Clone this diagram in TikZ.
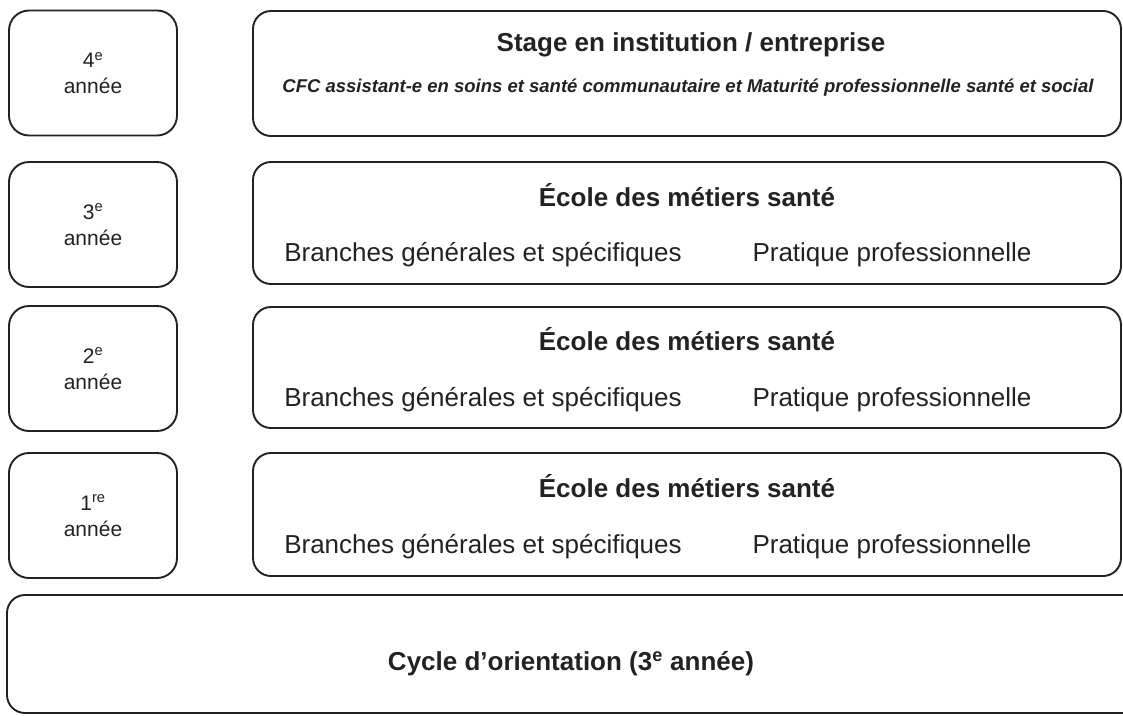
\documentclass[tikz,border=0pt]{standalone}
\usepackage{fontspec}
\setmainfont{Liberation Sans}
\usepackage{xcolor}
\definecolor{ink}{HTML}{222222}
\tikzstyle{year} = [rectangle, rounded corners=20pt, minimum width=168pt, minimum height=125pt, inner sep=0pt, draw=ink, line width=1.9pt, align=center, text=ink, font=\fontsize{21}{26}\selectfont]
\tikzstyle{school} = [rectangle, rounded corners=18pt, minimum width=868pt, inner sep=0pt, draw=ink, line width=1.9pt]
\tikzstyle{title} = [text=ink, inner sep=0pt, font=\fontsize{26}{30}\selectfont\bfseries]
\tikzstyle{branch} = [text=ink, inner sep=0pt, font=\fontsize{26}{30}\selectfont]
\tikzstyle{cfc} = [text=ink, inner sep=0pt, font=\fontsize{18.5}{22}\selectfont\bfseries\itshape]

\begin{document}
\begin{tikzpicture}[x=1pt, y=1pt, yscale=-1]

\useasboundingbox (0,0) rectangle (1123,715);
\clip (0,0) rectangle (1123,715);

% years
\node at (93, 73) (y4) [year] {4\textsuperscript{e}\\année};
\node at (93, 224.5) (y3) [year] {3\textsuperscript{e}\\année};
\node at (93, 368.5) (y2) [year] {2\textsuperscript{e}\\année};
\node at (93, 515.5) (y1) [year] {1\textsuperscript{re}\\année};

% stage
\node at (687, 73.5) (stage) [school, minimum height=125pt] {};
\node at (691, 45) (stagetitle) [title] {Stage en institution / entreprise};
\node at (688, 88) (cfc) [cfc] {CFC assistant-e en soins et santé communautaire et Maturité professionnelle santé et social};

% ecole des metiers
\node at (687, 223) (ems3) [school, minimum height=122pt] {};
\node at (687, 367.5) (ems2) [school, minimum height=121pt] {};
\node at (687, 514.5) (ems1) [school, minimum height=123pt] {};
\foreach \row in {ems3, ems2, ems1} {
  \node at ([yshift=-28pt]\row.center) (\row title) [title] {École des métiers santé};
  \node at ([xshift=-204pt, yshift=32pt]\row.center) (\row gen) [branch] {Branches générales et spécifiques};
  \node at ([xshift=205pt, yshift=32pt]\row.center) (\row prat) [branch] {Pratique professionnelle};
}

% cycle
\node at (600, 654) (cycle) [school, minimum width=1186pt, minimum height=118pt] {};
\node at (571, 664) (cycletitle) [title] {Cycle d’orientation (3\textsuperscript{e} année)};

\end{tikzpicture}
\end{document}
